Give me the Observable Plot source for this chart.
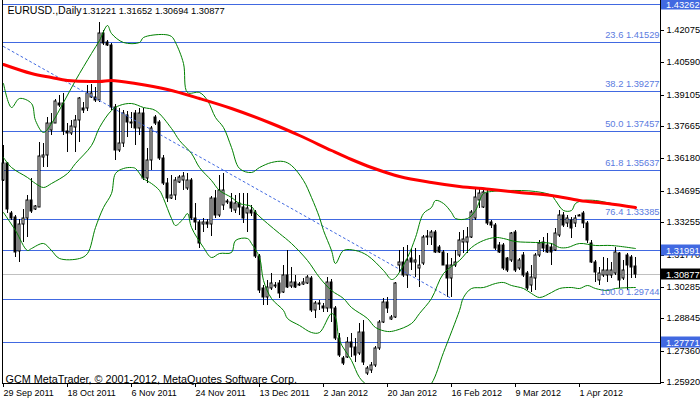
<!DOCTYPE html>
<html><head><meta charset="utf-8">
<script src="https://cdn.jsdelivr.net/npm/d3@7"></script>
<script src="https://cdn.jsdelivr.net/npm/@observablehq/plot@0.6"></script>
<style>body{margin:0;background:#fff}</style>
</head><body><div id="chart"></div>
<script>
const openP = [1.3519,1.3597,1.3368,1.3349,1.3193,1.3317,1.3345,1.3427,1.3386,1.3395,
1.3625,1.3634,1.3749,1.3781,1.3872,1.3872,1.3744,1.3735,1.3762,1.3794,
1.3850,1.3850,1.3900,1.3900,1.3886,1.4194,1.4152,1.4139,1.3854,1.3657,
1.3689,1.3817,1.3785,1.3827,1.3758,1.3827,1.3528,1.3611,1.3808,1.3785,
1.3620,1.3505,1.3436,1.3450,1.3510,1.3519,1.3482,1.3519,1.3345,1.3326,
1.3317,1.3326,1.3317,1.3436,1.3358,1.3404,1.3423,1.3418,1.3381,1.3413,
1.3395,1.3368,1.3381,1.3372,1.3170,1.3023,1.2982,1.3023,1.3037,1.3046,
1.3005,1.3083,1.3033,1.3051,1.3042,1.3042,1.3046,1.3069,1.2922,1.2954,
1.2941,1.2932,1.3051,1.2932,1.2794,1.2702,1.2707,1.2775,1.2752,1.2725,
1.2821,1.2633,1.2647,1.2670,1.2748,1.2867,1.2959,1.2881,1.2890,1.3129,
1.3143,1.3083,1.3161,1.3143,1.3115,1.3138,1.3257,1.3257,1.3280,1.3212,
1.3189,1.3129,1.3069,1.3129,1.3175,1.3234,1.3234,1.3257,1.3345,1.3427,
1.3395,1.3459,1.3326,1.3313,1.3221,1.3221,1.3161,1.3152,1.3280,1.3115,
1.3175,1.3092,1.3037,1.3069,1.3175,1.3234,1.3221,1.3212,1.3198,1.3267,
1.3358,1.3322,1.3335,1.3322,1.3358,1.3368,1.3322,1.3230,1.3143,1.3060,
1.3083,1.3083,1.3083,1.3092,1.3184,1.3069,1.3175,1.3166,1.31221];
const highP = [1.3680,1.3602,1.3377,1.3358,1.3340,1.3386,1.3450,1.3528,1.3404,1.3693,
1.3689,1.3808,1.3827,1.3891,1.3909,1.3918,1.3781,1.3794,1.3817,1.3900,
1.3877,1.3955,1.3960,1.3946,1.4244,1.4208,1.4162,1.4148,1.3868,1.3850,
1.3840,1.3836,1.3831,1.3840,1.3850,1.3850,1.3666,1.3767,1.3817,1.3794,
1.3634,1.3528,1.3542,1.3533,1.3542,1.3556,1.3551,1.3528,1.3413,1.3335,
1.3345,1.3340,1.3446,1.3473,1.3542,1.3551,1.3432,1.3459,1.3450,1.3459,
1.3459,1.3459,1.3404,1.3381,1.3179,1.3037,1.3060,1.3092,1.3051,1.3060,
1.3129,1.3198,1.3120,1.3083,1.3051,1.3069,1.3083,1.3078,1.2964,1.2968,
1.2954,1.3074,1.3065,1.2941,1.2817,1.2711,1.2798,1.2817,1.2794,1.2863,
1.2876,1.2665,1.2684,1.2757,1.2876,1.2977,1.2982,1.2899,1.3051,1.3198,
1.3212,1.3221,1.3207,1.3207,1.3175,1.3267,1.3290,1.3290,1.3290,1.3221,
1.3198,1.3184,1.3161,1.3198,1.3280,1.3290,1.3303,1.3381,1.3487,1.3487,
1.3482,1.3473,1.3335,1.3322,1.3234,1.3230,1.3166,1.3280,1.3290,1.3161,
1.3189,1.3101,1.3129,1.3184,1.3244,1.3257,1.3276,1.3230,1.3299,1.3381,
1.3372,1.3358,1.3349,1.3358,1.3363,1.3377,1.3331,1.3244,1.3152,1.3120,
1.3166,1.3161,1.3143,1.3212,1.3189,1.3152,1.3184,1.3175,1.31652];
const lowP = [1.3514,1.3368,1.3335,1.3166,1.3143,1.3234,1.3257,1.3368,1.3381,1.3395,
1.3579,1.3579,1.3726,1.3781,1.3854,1.3726,1.3648,1.3726,1.3648,1.3693,
1.3827,1.3836,1.3895,1.3877,1.3877,1.4139,1.4134,1.3840,1.3611,1.3648,
1.3671,1.3716,1.3758,1.3680,1.3726,1.3519,1.3505,1.3565,1.3771,1.3611,
1.3496,1.3418,1.3432,1.3427,1.3505,1.3473,1.3473,1.3335,1.3290,1.3207,
1.3280,1.3299,1.3262,1.3345,1.3349,1.3381,1.3409,1.3372,1.3368,1.3358,
1.3322,1.3280,1.3354,1.3161,1.3000,1.2945,1.2945,1.3014,1.3023,1.2977,
1.3000,1.3023,1.3023,1.3023,1.3033,1.3037,1.3042,1.2913,1.2886,1.2922,
1.2913,1.2913,1.2867,1.2785,1.2707,1.2670,1.2702,1.2707,1.2684,1.2716,
1.2670,1.2624,1.2633,1.2661,1.2739,1.2863,1.2909,1.2876,1.2886,1.3097,
1.3074,1.3023,1.3106,1.3074,1.3028,1.3129,1.3221,1.3221,1.3184,1.3184,
1.3129,1.2982,1.2982,1.3120,1.3166,1.3184,1.3184,1.3253,1.3335,1.3391,
1.3391,1.3313,1.3299,1.3198,1.3184,1.3106,1.3097,1.3143,1.3097,1.3106,
1.3074,1.3014,1.3005,1.3014,1.3166,1.3189,1.3184,1.3129,1.3193,1.3257,
1.3303,1.3303,1.3253,1.3303,1.3354,1.3299,1.3230,1.3138,1.3051,1.3037,
1.3074,1.3051,1.3069,1.3083,1.3023,1.3060,1.3014,1.3069,1.30694];
const closeP = [1.3597,1.3386,1.3345,1.3189,1.3317,1.3345,1.3427,1.3377,1.3400,1.3629,
1.3634,1.3781,1.3781,1.3882,1.3863,1.3744,1.3735,1.3767,1.3794,1.3895,
1.3840,1.3918,1.3918,1.3886,1.4194,1.4148,1.4139,1.3854,1.3657,1.3689,
1.3827,1.3785,1.3781,1.3758,1.3827,1.3528,1.3611,1.3758,1.3781,1.3620,
1.3505,1.3436,1.3450,1.3519,1.3533,1.3537,1.3519,1.3345,1.3326,1.3230,
1.3326,1.3317,1.3436,1.3358,1.3473,1.3473,1.3418,1.3391,1.3413,1.3395,
1.3345,1.3391,1.3368,1.3170,1.3014,1.2982,1.3028,1.3046,1.3033,1.3000,
1.3083,1.3028,1.3051,1.3028,1.3037,1.3051,1.3074,1.2922,1.2954,1.2950,
1.2932,1.3051,1.2932,1.2794,1.2716,1.2679,1.2775,1.2752,1.2716,1.2821,
1.2684,1.2656,1.2670,1.2748,1.2867,1.2959,1.2932,1.2890,1.3046,1.3143,
1.3083,1.3152,1.3143,1.3152,1.3129,1.3257,1.3262,1.3280,1.3189,1.3189,
1.3129,1.3069,1.3129,1.3143,1.3244,1.3248,1.3257,1.3372,1.3441,1.3459,
1.3464,1.3322,1.3313,1.3207,1.3189,1.3115,1.3106,1.3276,1.3106,1.3152,
1.3083,1.3023,1.3074,1.3175,1.3230,1.3207,1.3189,1.3189,1.3276,1.3358,
1.3313,1.3345,1.3299,1.3345,1.3354,1.3322,1.3244,1.3143,1.3097,1.3092,
1.3106,1.3106,1.3106,1.3189,1.3060,1.3106,1.3129,1.3120,1.30877];

// moving average (red), read at sampled bars
const maBars = [0,7,12,16,24,27,33,41,49,57,67,74,82,87,92,99,107,114,122,129,137,144,151,158];
const maVals = [1.4051,1.4010,1.3992,1.3978,1.3973,1.3978,1.3964,1.3937,1.3895,1.3850,1.3781,1.3726,1.3657,1.3615,1.3579,1.3537,1.3510,1.3491,1.3478,1.3464,1.3450,1.3427,1.3413,1.3395];

// Bollinger bands (green), read at sampled bars
const upBars = [0,2,4,7,8,10,12,15,18,22,24,26,27,30,34,35,40,42,43,45,46,49,51,53,55,57,59,62,64,67,70,72,75,77,79,80,82,83,85,88,91,95,97,98,101,103,105,107,108,110,112,113,116,118,120,122,126,133,137,138,140,142,143,145,148,152,158];
const upVals = [1.3964,1.3854,1.3895,1.3872,1.3794,1.3739,1.3781,1.3877,1.3978,1.4102,1.4162,1.4231,1.4194,1.4152,1.4152,1.4175,1.4189,1.4180,1.4152,1.4056,1.3923,1.3923,1.3886,1.3808,1.3762,1.3671,1.3574,1.3556,1.3579,1.3602,1.3606,1.3588,1.3519,1.3441,1.3349,1.3290,1.3198,1.3138,1.3198,1.3198,1.3175,1.3106,1.3065,1.3074,1.3166,1.3257,1.3368,1.3395,1.3427,1.3413,1.3372,1.3345,1.3345,1.3381,1.3459,1.3468,1.3473,1.3468,1.3450,1.3427,1.3381,1.3381,1.3413,1.3427,1.3427,1.3413,1.3395];
const midBars = [0,2,6,8,10,12,16,18,22,24,27,29,32,35,38,42,44,47,49,52,54,57,59,62,63,66,69,72,76,79,82,85,87,91,93,96,98,102,104,107,110,114,117,120,123,125,128,133,137,139,141,144,148,152,158];
const midVals = [1.3625,1.3579,1.3533,1.3505,1.3487,1.3505,1.3551,1.3597,1.3680,1.3762,1.3840,1.3863,1.3872,1.3854,1.3840,1.3758,1.3703,1.3643,1.3579,1.3519,1.3473,1.3441,1.3413,1.3400,1.3372,1.3322,1.3276,1.3230,1.3152,1.3074,1.3014,1.2977,1.2936,1.2886,1.2844,1.2826,1.2831,1.2863,1.2909,1.2977,1.3092,1.3152,1.3212,1.3244,1.3257,1.3253,1.3239,1.3234,1.3230,1.3212,1.3212,1.3230,1.3221,1.3221,1.3207];
const lowBars = [0,3,6,7,10,12,14,19,21,23,25,27,28,30,32,33,35,37,39,40,42,43,45,46,47,50,52,54,57,58,61,62,64,65,67,70,71,74,77,79,82,83,84,87,89,91,94,97,100,104,107,110,114,115,117,120,123,125,127,130,132,134,137,139,142,144,146,148,151,153,158];
const lowVals = [1.3372,1.3290,1.3198,1.3207,1.3230,1.3198,1.3161,1.3161,1.3184,1.3303,1.3395,1.3459,1.3551,1.3574,1.3579,1.3574,1.3528,1.3505,1.3473,1.3436,1.3345,1.3313,1.3345,1.3368,1.3303,1.3212,1.3166,1.3184,1.3189,1.3244,1.3253,1.3230,1.3166,1.3060,1.2977,1.2922,1.2886,1.2853,1.2821,1.2821,1.2909,1.2890,1.2785,1.2693,1.2615,1.2578,1.2546,1.2587,1.2546,1.2532,1.2587,1.2730,1.2922,1.2982,1.3023,1.3028,1.3046,1.3051,1.3037,1.3023,1.3000,1.2982,1.3005,1.3023,1.3028,1.3023,1.3037,1.3023,1.3014,1.3023,1.3028];

// dashed trendline end points
const trendBars = [0, 112];
const trendVals = [1.4134, 1.2976];

// Fibonacci retracement
const fibLevels = [23.6, 38.2, 50.0, 61.8, 76.4, 100.0];
const fibPrices = [1.41529, 1.39277, 1.37457, 1.35637, 1.33385, 1.29744];
const extraLevels = [1.43262, 1.31991, 1.27771];
const lastPrice = 1.30877;

const yTicks = [1.42075, 1.40590, 1.39105, 1.37665, 1.36180, 1.34695, 1.33255, 1.31770, 1.30285, 1.28845, 1.27360, 1.25920];
const dateBars = [0, 16, 32, 48, 64, 80, 96, 112, 128, 144];
const dateLabels = ["29 Sep 2011", "18 Oct 2011", "6 Nov 2011", "24 Nov 2011", "13 Dec 2011", "2 Jan 2012", "20 Jan 2012", "16 Feb 2012", "9 Mar 2012", "1 Apr 2012"];

const titleText = "EURUSD.,Daily";
const quoteText = "1.31221 1.31652 1.30694 1.30877";
const footerText = "GCM MetaTrader, © 2001-2012, MetaQuotes Software Corp.";

const candles = openP.map((o, i) => ({i, o, h: highP[i], l: lowP[i], c: closeP[i]}));
const pairs = (bs, vs) => bs.map((b, k) => ({b, v: vs[k]}));
const ma = pairs(maBars, maVals);
const upper = pairs(upBars, upVals);
const middle = pairs(midBars, midVals);
const lower = pairs(lowBars, lowVals);
const trend = pairs(trendBars, trendVals);
const fib = fibLevels.map((lv, k) => ({lv, p: fibPrices[k]}));

const FONT = "'Liberation Sans', Arial, sans-serif";
const chart = Plot.plot({
  width: 700, height: 402,
  marginLeft: 2, marginRight: 40, marginTop: 0, marginBottom: 19,
  style: {fontFamily: FONT, fontSize: "9.3px", background: "white", color: "black", overflow: "visible"},
  x: {domain: [0, 158], range: [3, 635], round: true},
  y: {domain: [1.2592, 1.42075], range: [382, 30], round: true},
  marks: [
    Plot.ruleY(fibPrices, {stroke: "#4169e1"}),
    Plot.ruleY(extraLevels, {stroke: "#4169e1"}),
    Plot.ruleY([lastPrice], {stroke: "#c0c0c0"}),
    Plot.ruleX(candles, {x: "i", y1: "l", y2: "h", stroke: "black"}),
    Plot.rect(candles, {x1: d => d.i - 0.25, x2: d => d.i + 0.25,
      y1: d => Math.min(d.o, d.c), y2: d => Math.max(d.o, d.c),
      fill: d => d.c >= d.o ? "white" : "black", stroke: "black"}),
    Plot.line(trend, {x: "b", y: "v", stroke: "#4169e1", strokeDasharray: "2,3", strokeWidth: 1}),
    Plot.line(upper, {x: "b", y: "v", stroke: "#008000", strokeWidth: 1, curve: "catmull-rom", clip: true}),
    Plot.line(middle, {x: "b", y: "v", stroke: "#008000", strokeWidth: 1, curve: "catmull-rom", clip: true}),
    Plot.line(lower, {x: "b", y: "v", stroke: "#008000", strokeWidth: 1, curve: "catmull-rom", clip: true}),
    Plot.line(ma, {x: "b", y: "v", stroke: "#ff0000", strokeWidth: 3, curve: "catmull-rom"}),
    Plot.text(fib, {y: "p", frameAnchor: "right", text: d => `${d.lv.toFixed(1)} ${d.p.toFixed(5)}`,
      textAnchor: "end", dx: -1, dy: -7, fill: "#5b7be0", fontSize: 9.3}),
    Plot.axisY(yTicks, {anchor: "right", tickSize: 3, tickPadding: 3, tickFormat: d => d.toFixed(5), fontSize: 9.3}),
    Plot.axisX(dateBars, {anchor: "bottom", tickSize: 4, tickPadding: 2, textAnchor: "start", dx: 0,
      tickFormat: d => dateLabels[dateBars.indexOf(d)], fontSize: 9}),
    Plot.frame({anchor: "left"}),
    Plot.frame({anchor: "right"}),
    Plot.frame({anchor: "bottom"}),
    Plot.text([titleText], {frameAnchor: "top-left", textAnchor: "start", dx: 5, dy: 6, lineAnchor: "top", fontSize: 10.6, fill: "black"}),
    Plot.text([quoteText], {frameAnchor: "top-left", textAnchor: "start", dx: 80, dy: 7, lineAnchor: "top", fontSize: 9.3, fill: "black"}),
    Plot.text([footerText], {frameAnchor: "bottom-left", textAnchor: "start", dx: 3, dy: -1, lineAnchor: "bottom", fontSize: 10.8, fill: "black"})
  ]
});

const ys = chart.scale("y");
const boxes = [...extraLevels.map(v => ({v, bg: "#4169e1"})), {v: lastPrice, bg: "black"}];
const g = d3.select(chart).append("g").attr("font-family", FONT).attr("font-size", "9.3px").attr("text-anchor", "start");
boxes.forEach(b => {
  const yy = ys.apply(b.v);
  g.append("rect").attr("x", 661).attr("y", yy - 5.5).attr("width", 39).attr("height", 11).attr("fill", b.bg);
  g.append("text").attr("x", 666).attr("y", yy + 3.5).attr("text-anchor", "start").attr("fill", "white").text(b.v.toFixed(5));
});
document.getElementById("chart").appendChild(chart);
</script>
</body></html>
